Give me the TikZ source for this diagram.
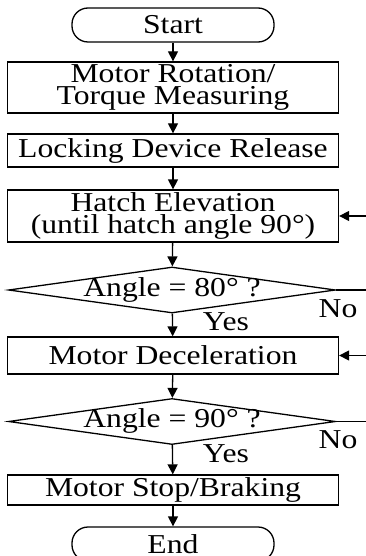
\documentclass[tikz,border=0pt]{standalone}
\usepackage{fontspec}
\setmainfont[FakeStretch=1.16]{Liberation Serif}
\usetikzlibrary{shapes.geometric,arrows.meta}
\begin{document}
\begin{tikzpicture}[x=1pt,y=-1pt,line width=1.3pt,
				every node/.style={font=\fontsize{27.3}{22}\selectfont,inner sep=0pt,align=center},
				terminal/.style={draw,rounded corners=16pt,minimum width=202pt,minimum height=34pt},
				process/.style={draw,minimum width=331pt},
				decision/.style={draw,diamond,aspect=7,minimum width=327pt,minimum height=46pt,text height=13pt,text depth=1pt},
				flow/.style={-{Triangle[length=10pt,width=10pt]}}]
\useasboundingbox (0,0) rectangle (366,556);
\clip (0,0) rectangle (366,556);
\node[terminal] (start) at (173,25) {Start};
\node[process,minimum height=51pt] (rotation) at (173,87.5) {Motor Rotation/\\Torque Measuring};
\node[process,minimum height=33pt] (lock) at (173,150.5) {Locking Device Release};
\node[process,minimum height=52pt] (hatch) at (173,216) {Hatch Elevation\\(until hatch angle 90°)};
\node[decision] (ang80) at (172,290) {Angle = 80° ?};
\node[process,minimum height=37pt] (decel) at (173,355.5) {Motor Deceleration};
\node[decision] (ang90) at (172,421.5) {Angle = 90° ?};
\node[process,minimum height=30pt] (stop) at (173,490) {Motor Stop/Braking};
\node[terminal] (end) at (173,544) {End};
% answers
\node (yes80) at (226,322) {Yes};
\node (no80) at (338,309) {No};
\node (yes90) at (226,454) {Yes};
\node (no90) at (338,440) {No};
% loop ends at the border
\coordinate (back80) at (366,290);
\coordinate (loop80) at (366,216);
\coordinate (back90) at (366,421.5);
\coordinate (loop90) at (366,355.5);
\draw[flow] (start) -- (rotation);
\draw[flow] (rotation) -- (lock);
\draw[flow] (lock) -- (hatch);
\draw[flow] (hatch) -- (ang80);
\draw[flow] (ang80) -- (decel);
\draw[flow] (decel) -- (ang90);
\draw[flow] (ang90) -- (stop);
\draw[flow] (stop) -- (end);
\draw (ang80.east) -- (back80);
\draw[flow] (loop80) -- (hatch.east);
\draw (ang90.east) -- (back90);
\draw[flow] (loop90) -- (decel.east);
\end{tikzpicture}
\end{document}
